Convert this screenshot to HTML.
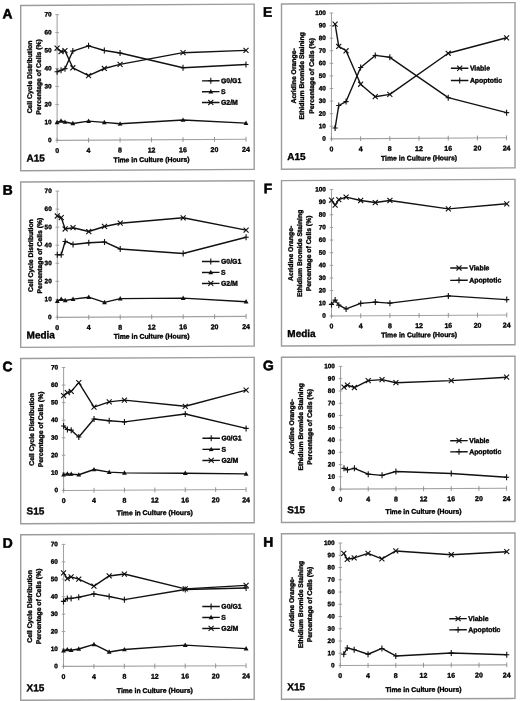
<!DOCTYPE html>
<html><head><meta charset="utf-8"><title>Figure</title>
<style>
html,body{margin:0;padding:0;background:#fff;width:520px;height:701px;overflow:hidden}
svg{display:block;will-change:transform}
text{font-family:"Liberation Sans",sans-serif;font-weight:bold;fill:#000;stroke:#000;stroke-width:0.35px}
.bd{fill:none;stroke:#9c9c9c;stroke-width:1.4}
.ax{fill:none;stroke:#a2a2a2;stroke-width:1.05}
.tk{fill:none;stroke:#8a8a8a;stroke-width:0.9}
.tky{fill:none;stroke:#999;stroke-width:0.9}
.ln{fill:none;stroke:#111;stroke-width:1.4;stroke-linejoin:round}
.m{fill:none;stroke:#111;stroke-width:1.1}
.t{fill:#111}
.pl{font-size:13.8px;stroke-width:0.55px}
.yl{font-size:6.4px;text-anchor:end}
.xl{font-size:7px;text-anchor:middle}
.xt{font-size:6.85px;text-anchor:middle}
.sl{font-size:10px;stroke-width:0.35px}
.yt{font-size:6.82px;text-anchor:middle}
.lg{font-size:6.9px}
</style></head><body>
<svg width="520" height="701" viewBox="0 0 520 701">
<rect width="520" height="701" fill="#fff"/>
<g transform="matrix(1 -0.0059 0 1 0 0)"><rect x="20.7" y="5.62" width="233.5" height="165.3" class="bd"/><text x="2.6" y="18.47" class="pl">A</text><path d="M57.1 14.94V140.69H246" class="ax"/><path d="M55.3 140.69H58.9M55.3 122.72H58.9M55.3 104.76H58.9M55.3 86.79H58.9M55.3 68.83H58.9M55.3 50.87H58.9M55.3 32.9H58.9M55.3 14.94H58.9" class="tky"/><path d="M57.1 138.29V143.09M88.58 138.29V143.09M120.07 138.29V143.09M151.55 138.29V143.09M183.03 138.29V143.09M214.52 138.29V143.09M246 138.29V143.09" class="tk"/><text x="51.5" y="142.59" class="yl">0</text><text x="51.5" y="124.62" class="yl">10</text><text x="51.5" y="106.66" class="yl">20</text><text x="51.5" y="88.69" class="yl">30</text><text x="51.5" y="70.73" class="yl">40</text><text x="51.5" y="52.77" class="yl">50</text><text x="51.5" y="34.8" class="yl">60</text><text x="51.5" y="16.84" class="yl">70</text><text x="57.1" y="153.29" class="xl">0</text><text x="88.58" y="153.29" class="xl">4</text><text x="120.07" y="153.29" class="xl">8</text><text x="151.55" y="153.29" class="xl">12</text><text x="183.03" y="153.29" class="xl">16</text><text x="214.52" y="153.29" class="xl">20</text><text x="246" y="153.29" class="xl">24</text><text x="151.55" y="162.92" class="xt">Time in Culture (Hours)</text><text x="26.55" y="161.72" class="sl">A15</text><text transform="translate(32 77.18) rotate(-90)" class="yt">Cell Cycle Distribution</text><text transform="translate(41.1 77.23) rotate(-90)" class="yt">Percentage of Cells (%)</text><path d="M57.1 72.06L61.04 70.65L64.97 69.06L72.84 51.5L88.58 46.38L104.33 51.14L120.07 53.75L183.03 68.85L246 65.99" class="ln"/><path d="M54.5 72.06H59.7M57.1 69.06V75.06" class="m"/><path d="M58.44 70.65H63.64M61.04 67.65V73.65" class="m"/><path d="M62.37 69.06H67.57M64.97 66.06V72.06" class="m"/><path d="M70.24 51.5H75.44M72.84 48.5V54.5" class="m"/><path d="M85.98 46.38H91.18M88.58 43.38V49.38" class="m"/><path d="M101.73 51.14H106.92M104.33 48.14V54.14" class="m"/><path d="M117.47 53.75H122.67M120.07 50.75V56.75" class="m"/><path d="M180.43 68.85H185.63M183.03 65.85V71.85" class="m"/><path d="M243.4 65.99H248.6M246 62.99V68.99" class="m"/><path d="M57.1 122.72L61.04 121.31L64.97 122.41L72.84 123.89L88.58 121.65L104.33 123L120.07 124.53L183.03 121.13L246 124.56" class="ln"/><path d="M57.1 120.12L59.5 124.52L54.7 124.52Z" class="t"/><path d="M61.04 118.71L63.44 123.11L58.64 123.11Z" class="t"/><path d="M64.97 119.81L67.37 124.21L62.57 124.21Z" class="t"/><path d="M72.84 121.29L75.24 125.69L70.44 125.69Z" class="t"/><path d="M88.58 119.05L90.98 123.45L86.18 123.45Z" class="t"/><path d="M104.33 120.4L106.73 124.8L101.92 124.8Z" class="t"/><path d="M120.07 121.93L122.47 126.33L117.67 126.33Z" class="t"/><path d="M183.03 118.53L185.43 122.93L180.63 122.93Z" class="t"/><path d="M246 121.96L248.4 126.36L243.6 126.36Z" class="t"/><path d="M57.1 48.53L61.04 51.97L64.97 51.09L72.84 68.2L88.58 76.2L104.33 69.11L120.07 65.07L183.03 53.76L246 51.8" class="ln"/><path d="M54.6 46.03L59.6 51.03M54.6 51.03L59.6 46.03" class="m"/><path d="M58.54 49.47L63.54 54.47M58.54 54.47L63.54 49.47" class="m"/><path d="M62.47 48.59L67.47 53.59M62.47 53.59L67.47 48.59" class="m"/><path d="M70.34 65.7L75.34 70.7M70.34 70.7L75.34 65.7" class="m"/><path d="M86.08 73.7L91.08 78.7M86.08 78.7L91.08 73.7" class="m"/><path d="M101.83 66.61L106.83 71.61M101.83 71.61L106.83 66.61" class="m"/><path d="M117.57 62.57L122.57 67.57M117.57 67.57L122.57 62.57" class="m"/><path d="M180.53 51.26L185.53 56.26M180.53 56.26L185.53 51.26" class="m"/><path d="M243.5 49.3L248.5 54.3M243.5 54.3L248.5 49.3" class="m"/><path d="M202 82.04H219.5" class="ln"/><path d="M208.2 82.04H213.4M210.8 79.04V85.04" class="m"/><text x="221" y="84.44" class="lg">G0/G1</text><path d="M202 92.89H219.5" class="ln"/><path d="M210.8 90.29L213.2 94.69L208.4 94.69Z" class="t"/><text x="221" y="95.29" class="lg">S</text><path d="M202 103.74H219.5" class="ln"/><path d="M208.3 101.24L213.3 106.24M208.3 106.24L213.3 101.24" class="m"/><text x="221" y="106.14" class="lg">G2/M</text></g>
<g transform="matrix(1 -0.0053 0 1 0 0)"><rect x="20.7" y="182.11" width="233.5" height="165.4" class="bd"/><text x="2.75" y="194.66" class="pl">B</text><path d="M57.3 191.4V317.7H246.1" class="ax"/><path d="M55.5 317.7H59.1M55.5 299.66H59.1M55.5 281.62H59.1M55.5 263.58H59.1M55.5 245.53H59.1M55.5 227.49H59.1M55.5 209.45H59.1M55.5 191.4H59.1" class="tky"/><path d="M57.3 315.3V320.1M88.77 315.3V320.1M120.23 315.3V320.1M151.7 315.3V320.1M183.17 315.3V320.1M214.63 315.3V320.1M246.1 315.3V320.1" class="tk"/><text x="51.7" y="319.6" class="yl">0</text><text x="51.7" y="301.56" class="yl">10</text><text x="51.7" y="283.52" class="yl">20</text><text x="51.7" y="265.48" class="yl">30</text><text x="51.7" y="247.43" class="yl">40</text><text x="51.7" y="229.39" class="yl">50</text><text x="51.7" y="211.35" class="yl">60</text><text x="51.7" y="193.3" class="yl">70</text><text x="57.3" y="330.3" class="xl">0</text><text x="88.77" y="330.3" class="xl">4</text><text x="120.23" y="330.3" class="xl">8</text><text x="151.7" y="330.3" class="xl">12</text><text x="183.17" y="330.3" class="xl">16</text><text x="214.63" y="330.3" class="xl">20</text><text x="246.1" y="330.3" class="xl">24</text><text x="151.7" y="339.41" class="xt">Time in Culture (Hours)</text><text x="26.55" y="338.61" class="sl">Media</text><text transform="translate(33 255.76) rotate(-90)" class="yt">Cell Cycle Distribution</text><text transform="translate(42.2 255.81) rotate(-90)" class="yt">Percentage of Cells (%)</text><path d="M57.3 255.09L61.23 255.12L65.17 241.78L73.03 244.89L88.77 243.17L104.5 242.53L120.23 249.65L183.17 254.5L246.1 238.59" class="ln"/><path d="M54.7 255.09H59.9M57.3 252.09V258.09" class="m"/><path d="M58.63 255.12H63.83M61.23 252.12V258.12" class="m"/><path d="M62.57 241.78H67.77M65.17 238.78V244.78" class="m"/><path d="M70.43 244.89H75.63M73.03 241.89V247.89" class="m"/><path d="M86.17 243.17H91.37M88.77 240.17V246.17" class="m"/><path d="M101.9 242.53H107.1M104.5 239.53V245.53" class="m"/><path d="M117.63 249.65H122.83M120.23 246.65V252.65" class="m"/><path d="M180.57 254.5H185.77M183.17 251.5V257.5" class="m"/><path d="M243.5 238.59H248.7M246.1 235.59V241.59" class="m"/><path d="M57.3 301.47L61.23 299.5L65.17 300.79L73.03 299.56L88.77 297.66L104.5 302.98L120.23 299.27L183.17 299.06L246.1 303.01" class="ln"/><path d="M57.3 298.87L59.7 303.27L54.9 303.27Z" class="t"/><path d="M61.23 296.9L63.63 301.3L58.83 301.3Z" class="t"/><path d="M65.17 298.19L67.57 302.59L62.77 302.59Z" class="t"/><path d="M73.03 296.96L75.43 301.36L70.63 301.36Z" class="t"/><path d="M88.77 295.06L91.17 299.46L86.37 299.46Z" class="t"/><path d="M104.5 300.38L106.9 304.78L102.1 304.78Z" class="t"/><path d="M120.23 296.67L122.63 301.07L117.83 301.07Z" class="t"/><path d="M183.17 296.46L185.57 300.86L180.77 300.86Z" class="t"/><path d="M246.1 300.41L248.5 304.81L243.7 304.81Z" class="t"/><path d="M57.3 216.3L61.23 217.95L65.17 229.34L73.03 228.11L88.77 231.99L104.5 227.02L120.23 223.85L183.17 218.77L246.1 231.38" class="ln"/><path d="M54.8 213.8L59.8 218.8M54.8 218.8L59.8 213.8" class="m"/><path d="M58.73 215.45L63.73 220.45M58.73 220.45L63.73 215.45" class="m"/><path d="M62.67 226.84L67.67 231.84M62.67 231.84L67.67 226.84" class="m"/><path d="M70.53 225.61L75.53 230.61M70.53 230.61L75.53 225.61" class="m"/><path d="M86.27 229.49L91.27 234.49M86.27 234.49L91.27 229.49" class="m"/><path d="M102 224.52L107 229.52M102 229.52L107 224.52" class="m"/><path d="M117.73 221.35L122.73 226.35M117.73 226.35L122.73 221.35" class="m"/><path d="M180.67 216.27L185.67 221.27M180.67 221.27L185.67 216.27" class="m"/><path d="M243.6 228.88L248.6 233.88M243.6 233.88L248.6 228.88" class="m"/><path d="M202 262.62H219.5" class="ln"/><path d="M208.2 262.62H213.4M210.8 259.62V265.62" class="m"/><text x="221" y="265.02" class="lg">G0/G1</text><path d="M202 273.57H219.5" class="ln"/><path d="M210.8 270.97L213.2 275.37L208.4 275.37Z" class="t"/><text x="221" y="275.97" class="lg">S</text><path d="M202 284.52H219.5" class="ln"/><path d="M208.3 282.02L213.3 287.02M208.3 287.02L213.3 282.02" class="m"/><text x="221" y="286.92" class="lg">G2/M</text></g>
<g transform="matrix(1 -0.0047 0 1 0 0)"><rect x="20.7" y="358.6" width="233.5" height="165.3" class="bd"/><text x="2.5" y="371.16" class="pl">C</text><path d="M63.6 367.8V490.7H246.1" class="ax"/><path d="M61.8 490.7H65.4M61.8 473.14H65.4M61.8 455.58H65.4M61.8 438.03H65.4M61.8 420.47H65.4M61.8 402.91H65.4M61.8 385.36H65.4M61.8 367.8H65.4" class="tky"/><path d="M63.6 488.3V493.1M94.02 488.3V493.1M124.43 488.3V493.1M154.85 488.3V493.1M185.27 488.3V493.1M215.68 488.3V493.1M246.1 488.3V493.1" class="tk"/><text x="58" y="492.6" class="yl">0</text><text x="58" y="475.04" class="yl">10</text><text x="58" y="457.48" class="yl">20</text><text x="58" y="439.93" class="yl">30</text><text x="58" y="422.37" class="yl">40</text><text x="58" y="404.81" class="yl">50</text><text x="58" y="387.26" class="yl">60</text><text x="58" y="369.7" class="yl">70</text><text x="63.6" y="503.3" class="xl">0</text><text x="94.02" y="503.3" class="xl">4</text><text x="124.43" y="503.3" class="xl">8</text><text x="154.85" y="503.3" class="xl">12</text><text x="185.27" y="503.3" class="xl">16</text><text x="215.68" y="503.3" class="xl">20</text><text x="246.1" y="503.3" class="xl">24</text><text x="154.85" y="515.8" class="xt">Time in Culture (Hours)</text><text x="26.55" y="514.6" class="sl">S15</text><text transform="translate(33.9 429.55) rotate(-90)" class="yt">Cell Cycle Distribution</text><text transform="translate(43.2 429.59) rotate(-90)" class="yt">Percentage of Cells (%)</text><path d="M63.6 426.26L67.4 429.79L71.2 430.51L78.81 437.4L94.02 419.38L109.22 421.21L124.43 422.51L185.27 414.9L246.1 429.58" class="ln"/><path d="M61 426.26H66.2M63.6 423.26V429.26" class="m"/><path d="M64.8 429.79H70M67.4 426.79V432.79" class="m"/><path d="M68.6 430.51H73.8M71.2 427.51V433.51" class="m"/><path d="M76.21 437.4H81.41M78.81 434.4V440.4" class="m"/><path d="M91.42 419.38H96.62M94.02 416.38V422.38" class="m"/><path d="M106.62 421.21H111.82M109.22 418.21V424.21" class="m"/><path d="M121.83 422.51H127.03M124.43 419.51V425.51" class="m"/><path d="M182.67 414.9H187.87M185.27 411.9V417.9" class="m"/><path d="M243.5 429.58H248.7M246.1 426.58V432.58" class="m"/><path d="M63.6 474.9L67.4 474.21L71.2 474.41L78.81 475.14L94.02 469.95L109.22 472.65L124.43 473.43L185.27 474.06L246.1 475.05" class="ln"/><path d="M63.6 472.3L66 476.7L61.2 476.7Z" class="t"/><path d="M67.4 471.61L69.8 476.01L65 476.01Z" class="t"/><path d="M71.2 471.81L73.6 476.21L68.8 476.21Z" class="t"/><path d="M78.81 472.54L81.21 476.94L76.41 476.94Z" class="t"/><path d="M94.02 467.35L96.42 471.75L91.62 471.75Z" class="t"/><path d="M109.22 470.05L111.62 474.45L106.82 474.45Z" class="t"/><path d="M124.43 470.83L126.83 475.23L122.03 475.23Z" class="t"/><path d="M185.27 471.46L187.67 475.86L182.87 475.86Z" class="t"/><path d="M246.1 472.45L248.5 476.85L243.7 476.85Z" class="t"/><path d="M63.6 395.89L67.4 392.92L71.2 391.71L78.81 382.97L94.02 407.62L109.22 402.43L124.43 400.74L185.27 407.17L246.1 391.31" class="ln"/><path d="M61.1 393.39L66.1 398.39M61.1 398.39L66.1 393.39" class="m"/><path d="M64.9 390.42L69.9 395.42M64.9 395.42L69.9 390.42" class="m"/><path d="M68.7 389.21L73.7 394.21M68.7 394.21L73.7 389.21" class="m"/><path d="M76.31 380.47L81.31 385.47M76.31 385.47L81.31 380.47" class="m"/><path d="M91.52 405.12L96.52 410.12M91.52 410.12L96.52 405.12" class="m"/><path d="M106.72 399.93L111.72 404.93M106.72 404.93L111.72 399.93" class="m"/><path d="M121.93 398.24L126.93 403.24M121.93 403.24L126.93 398.24" class="m"/><path d="M182.77 404.67L187.77 409.67M182.77 409.67L187.77 404.67" class="m"/><path d="M243.6 388.81L248.6 393.81M243.6 393.81L248.6 388.81" class="m"/><path d="M202.4 439.24H219.9" class="ln"/><path d="M208.6 439.24H213.8M211.2 436.24V442.24" class="m"/><text x="221.4" y="441.64" class="lg">G0/G1</text><path d="M202.4 450.31H219.9" class="ln"/><path d="M211.2 447.71L213.6 452.11L208.8 452.11Z" class="t"/><text x="221.4" y="452.71" class="lg">S</text><path d="M202.4 461.38H219.9" class="ln"/><path d="M208.7 458.88L213.7 463.88M208.7 463.88L213.7 458.88" class="m"/><text x="221.4" y="463.78" class="lg">G2/M</text></g>
<g transform="matrix(1 -0.0038 0 1 0 0)"><rect x="20.7" y="534.88" width="233.5" height="165.5" class="bd"/><text x="2.75" y="547.86" class="pl">D</text><path d="M63.5 544.64V666.64H246.1" class="ax"/><path d="M61.7 666.64H65.3M61.7 649.21H65.3M61.7 631.78H65.3M61.7 614.36H65.3M61.7 596.93H65.3M61.7 579.5H65.3M61.7 562.07H65.3M61.7 544.64H65.3" class="tky"/><path d="M63.5 664.24V669.04M93.93 664.24V669.04M124.37 664.24V669.04M154.8 664.24V669.04M185.23 664.24V669.04M215.67 664.24V669.04M246.1 664.24V669.04" class="tk"/><text x="57.9" y="668.54" class="yl">0</text><text x="57.9" y="651.11" class="yl">10</text><text x="57.9" y="633.68" class="yl">20</text><text x="57.9" y="616.26" class="yl">30</text><text x="57.9" y="598.83" class="yl">40</text><text x="57.9" y="581.4" class="yl">50</text><text x="57.9" y="563.97" class="yl">60</text><text x="57.9" y="546.54" class="yl">70</text><text x="63.5" y="679.24" class="xl">0</text><text x="93.93" y="679.24" class="xl">4</text><text x="124.37" y="679.24" class="xl">8</text><text x="154.8" y="679.24" class="xl">12</text><text x="185.23" y="679.24" class="xl">16</text><text x="215.67" y="679.24" class="xl">20</text><text x="246.1" y="679.24" class="xl">24</text><text x="154.8" y="693.48" class="xt">Time in Culture (Hours)</text><text x="26.55" y="691.38" class="sl">X15</text><text transform="translate(31.6 606.51) rotate(-90)" class="yt">Cell Cycle Distribution</text><text transform="translate(41.1 606.55) rotate(-90)" class="yt">Percentage of Cells (%)</text><path d="M63.5 601.63L67.3 598.68L71.11 598.7L78.72 597.51L93.93 594.25L109.15 596.93L124.37 600.12L185.23 590.24L246.1 588.91" class="ln"/><path d="M60.9 601.63H66.1M63.5 598.63V604.63" class="m"/><path d="M64.7 598.68H69.9M67.3 595.68V601.68" class="m"/><path d="M68.51 598.7H73.71M71.11 595.7V601.7" class="m"/><path d="M76.12 597.51H81.32M78.72 594.51V600.51" class="m"/><path d="M91.33 594.25H96.53M93.93 591.25V597.25" class="m"/><path d="M106.55 596.93H111.75M109.15 593.93V599.93" class="m"/><path d="M121.77 600.12H126.97M124.37 597.12V603.12" class="m"/><path d="M182.63 590.24H187.83M185.23 587.24V593.24" class="m"/><path d="M243.5 588.91H248.7M246.1 585.91V591.91" class="m"/><path d="M63.5 650.96L67.3 649.75L71.11 650.46L78.72 649.27L93.93 644.8L109.15 652.35L124.37 649.97L185.23 645.84L246.1 649.56" class="ln"/><path d="M63.5 648.36L65.9 652.76L61.1 652.76Z" class="t"/><path d="M67.3 647.15L69.7 651.55L64.9 651.55Z" class="t"/><path d="M71.11 647.86L73.51 652.26L68.71 652.26Z" class="t"/><path d="M78.72 646.67L81.12 651.07L76.32 651.07Z" class="t"/><path d="M93.93 642.2L96.33 646.6L91.53 646.6Z" class="t"/><path d="M109.15 649.75L111.55 654.15L106.75 654.15Z" class="t"/><path d="M124.37 647.37L126.77 651.77L121.97 651.77Z" class="t"/><path d="M185.23 643.24L187.63 647.64L182.83 647.64Z" class="t"/><path d="M246.1 646.96L248.5 651.36L243.7 651.36Z" class="t"/><path d="M63.5 573.05L67.3 578.82L71.11 577.09L78.72 579.38L93.93 586.41L109.15 576.36L124.37 574.5L185.23 589.55L246.1 586.29" class="ln"/><path d="M61 570.55L66 575.55M61 575.55L66 570.55" class="m"/><path d="M64.8 576.32L69.8 581.32M64.8 581.32L69.8 576.32" class="m"/><path d="M68.61 574.59L73.61 579.59M68.61 579.59L73.61 574.59" class="m"/><path d="M76.22 576.88L81.22 581.88M76.22 581.88L81.22 576.88" class="m"/><path d="M91.43 583.91L96.43 588.91M91.43 588.91L96.43 583.91" class="m"/><path d="M106.65 573.86L111.65 578.86M106.65 578.86L111.65 573.86" class="m"/><path d="M121.87 572L126.87 577M121.87 577L126.87 572" class="m"/><path d="M182.73 587.05L187.73 592.05M182.73 592.05L187.73 587.05" class="m"/><path d="M243.6 583.79L248.6 588.79M243.6 588.79L248.6 583.79" class="m"/><path d="M202.3 607.3H219.8" class="ln"/><path d="M208.5 607.3H213.7M211.1 604.3V610.3" class="m"/><text x="221.3" y="609.7" class="lg">G0/G1</text><path d="M202.3 618.25H219.8" class="ln"/><path d="M211.1 615.65L213.5 620.05L208.7 620.05Z" class="t"/><text x="221.3" y="620.65" class="lg">S</text><path d="M202.3 629.2H219.8" class="ln"/><path d="M208.6 626.7L213.6 631.7M208.6 631.7L213.6 626.7" class="m"/><text x="221.3" y="631.6" class="lg">G2/M</text></g>
<g transform="matrix(1 -0.0059 0 1 0 0)"><rect x="281.5" y="5.62" width="233.5" height="165.3" class="bd"/><text x="263" y="18.2" class="pl">E</text><path d="M331.45 14.96V140.81H506.6" class="ax"/><path d="M329.65 140.81H333.25M329.65 128.22H333.25M329.65 115.64H333.25M329.65 103.05H333.25M329.65 90.47H333.25M329.65 77.88H333.25M329.65 65.3H333.25M329.65 52.71H333.25M329.65 40.13H333.25M329.65 27.54H333.25M329.65 14.96H333.25" class="tky"/><path d="M331.45 138.41V143.21M360.64 138.41V143.21M389.83 138.41V143.21M419.02 138.41V143.21M448.22 138.41V143.21M477.41 138.41V143.21M506.6 138.41V143.21" class="tk"/><text x="325.85" y="142.71" class="yl">0</text><text x="325.85" y="130.12" class="yl">10</text><text x="325.85" y="117.54" class="yl">20</text><text x="325.85" y="104.95" class="yl">30</text><text x="325.85" y="92.37" class="yl">40</text><text x="325.85" y="79.78" class="yl">50</text><text x="325.85" y="67.2" class="yl">60</text><text x="325.85" y="54.61" class="yl">70</text><text x="325.85" y="42.03" class="yl">80</text><text x="325.85" y="29.44" class="yl">90</text><text x="325.85" y="16.86" class="yl">100</text><text x="331.45" y="153.41" class="xl">0</text><text x="360.64" y="153.41" class="xl">4</text><text x="389.83" y="153.41" class="xl">8</text><text x="419.02" y="153.41" class="xl">12</text><text x="448.22" y="153.41" class="xl">16</text><text x="477.41" y="153.41" class="xl">20</text><text x="506.6" y="153.41" class="xl">24</text><text x="419.02" y="162.92" class="xt">Time in Culture (Hours)</text><text x="287.35" y="161.72" class="sl">A15</text><text transform="translate(295.8 77.63) rotate(-90)" class="yt">Acridine Orange-</text><text transform="translate(304.4 77.68) rotate(-90)" class="yt">Ethidium Bromide Staining</text><text transform="translate(313.5 77.74) rotate(-90)" class="yt">Percentage of Cells (%)</text><path d="M335.1 26.05L338.75 48.47L346.05 52.8L360.64 86.36L375.24 98.9L389.83 96.72L448.22 55.92L506.6 40.78" class="ln"/><path d="M332.6 23.55L337.6 28.55M332.6 28.55L337.6 23.55" class="m"/><path d="M336.25 45.97L341.25 50.97M336.25 50.97L341.25 45.97" class="m"/><path d="M343.55 50.3L348.55 55.3M343.55 55.3L348.55 50.3" class="m"/><path d="M358.14 83.86L363.14 88.86M358.14 88.86L363.14 83.86" class="m"/><path d="M372.74 96.4L377.74 101.4M372.74 101.4L377.74 96.4" class="m"/><path d="M387.33 94.22L392.33 99.22M387.33 99.22L392.33 94.22" class="m"/><path d="M445.72 53.42L450.72 58.42M445.72 58.42L450.72 53.42" class="m"/><path d="M504.1 38.28L509.1 43.28M504.1 43.28L509.1 38.28" class="m"/><path d="M335.1 130L338.75 107.5L346.05 103.64L360.64 69.62L375.24 57.63L389.83 59.6L448.22 100.34L506.6 115.66" class="ln"/><path d="M332.5 130H337.7M335.1 127V133" class="m"/><path d="M336.15 107.5H341.35M338.75 104.5V110.5" class="m"/><path d="M343.45 103.64H348.65M346.05 100.64V106.64" class="m"/><path d="M358.04 69.62H363.24M360.64 66.62V72.62" class="m"/><path d="M372.64 57.63H377.84M375.24 54.63V60.63" class="m"/><path d="M387.23 59.6H392.43M389.83 56.6V62.6" class="m"/><path d="M445.62 100.34H450.82M448.22 97.34V103.34" class="m"/><path d="M504 115.66H509.2M506.6 112.66V118.66" class="m"/><path d="M450.9 70.96H468.4" class="ln"/><path d="M457.2 68.46L462.2 73.46M457.2 73.46L462.2 68.46" class="m"/><text x="469.9" y="73.36" class="lg">Viable</text><path d="M450.9 83.21H468.4" class="ln"/><path d="M457.1 83.21H462.3M459.7 80.21V86.21" class="m"/><text x="469.9" y="85.61" class="lg">Apoptotic</text></g>
<g transform="matrix(1 -0.0053 0 1 0 0)"><rect x="281.5" y="182.11" width="233.5" height="165.4" class="bd"/><text x="263.8" y="194.55" class="pl">F</text><path d="M331.5 191.26V317.66H506.75" class="ax"/><path d="M329.7 317.66H333.3M329.7 305.02H333.3M329.7 292.38H333.3M329.7 279.74H333.3M329.7 267.1H333.3M329.7 254.46H333.3M329.7 241.82H333.3M329.7 229.18H333.3M329.7 216.54H333.3M329.7 203.9H333.3M329.7 191.26H333.3" class="tky"/><path d="M331.5 315.26V320.06M360.71 315.26V320.06M389.92 315.26V320.06M419.12 315.26V320.06M448.33 315.26V320.06M477.54 315.26V320.06M506.75 315.26V320.06" class="tk"/><text x="325.9" y="319.56" class="yl">0</text><text x="325.9" y="306.92" class="yl">10</text><text x="325.9" y="294.28" class="yl">20</text><text x="325.9" y="281.64" class="yl">30</text><text x="325.9" y="269" class="yl">40</text><text x="325.9" y="256.36" class="yl">50</text><text x="325.9" y="243.72" class="yl">60</text><text x="325.9" y="231.08" class="yl">70</text><text x="325.9" y="218.44" class="yl">80</text><text x="325.9" y="205.8" class="yl">90</text><text x="325.9" y="193.16" class="yl">100</text><text x="331.5" y="330.26" class="xl">0</text><text x="360.71" y="330.26" class="xl">4</text><text x="389.92" y="330.26" class="xl">8</text><text x="419.12" y="330.26" class="xl">12</text><text x="448.33" y="330.26" class="xl">16</text><text x="477.54" y="330.26" class="xl">20</text><text x="506.75" y="330.26" class="xl">24</text><text x="419.12" y="339.41" class="xt">Time in Culture (Hours)</text><text x="287.35" y="338.61" class="sl">Media</text><text transform="translate(292.9 254.94) rotate(-90)" class="yt">Acridine Orange-</text><text transform="translate(302.1 254.99) rotate(-90)" class="yt">Ethidium Bromide Staining</text><text transform="translate(311.2 255.04) rotate(-90)" class="yt">Percentage of Cells (%)</text><path d="M331.5 201.87L335.15 206.82L338.8 201.41L346.1 198.92L360.71 202.41L375.31 204.51L389.92 202.56L448.33 211.22L506.75 206.47" class="ln"/><path d="M329 199.37L334 204.37M329 204.37L334 199.37" class="m"/><path d="M332.65 204.32L337.65 209.32M332.65 209.32L337.65 204.32" class="m"/><path d="M336.3 198.91L341.3 203.91M336.3 203.91L341.3 198.91" class="m"/><path d="M343.6 196.42L348.6 201.42M343.6 201.42L348.6 196.42" class="m"/><path d="M358.21 199.91L363.21 204.91M358.21 204.91L363.21 199.91" class="m"/><path d="M372.81 202.01L377.81 207.01M372.81 207.01L377.81 202.01" class="m"/><path d="M387.42 200.06L392.42 205.06M387.42 205.06L392.42 200.06" class="m"/><path d="M445.83 208.72L450.83 213.72M445.83 213.72L450.83 208.72" class="m"/><path d="M504.25 203.97L509.25 208.97M504.25 208.97L509.25 203.97" class="m"/><path d="M331.5 306.15L335.15 301.88L338.8 306.95L346.1 310.78L360.71 305.3L375.31 304.11L389.92 305.2L448.33 298.3L506.75 302.28" class="ln"/><path d="M328.9 306.15H334.1M331.5 303.15V309.15" class="m"/><path d="M332.55 301.88H337.75M335.15 298.88V304.88" class="m"/><path d="M336.2 306.95H341.4M338.8 303.95V309.95" class="m"/><path d="M343.5 310.78H348.7M346.1 307.78V313.78" class="m"/><path d="M358.11 305.3H363.31M360.71 302.3V308.3" class="m"/><path d="M372.71 304.11H377.91M375.31 301.11V307.11" class="m"/><path d="M387.32 305.2H392.52M389.92 302.2V308.2" class="m"/><path d="M445.73 298.3H450.93M448.33 295.3V301.3" class="m"/><path d="M504.15 302.28H509.35M506.75 299.28V305.28" class="m"/><path d="M450.2 270.43H467.7" class="ln"/><path d="M456.5 267.93L461.5 272.93M456.5 272.93L461.5 267.93" class="m"/><text x="469.2" y="272.83" class="lg">Viable</text><path d="M450.2 282.73H467.7" class="ln"/><path d="M456.4 282.73H461.6M459 279.73V285.73" class="m"/><text x="469.2" y="285.13" class="lg">Apoptotic</text></g>
<g transform="matrix(1 -0.0047 0 1 0 0)"><rect x="281.5" y="358.6" width="233.5" height="165.3" class="bd"/><text x="263" y="371.39" class="pl">G</text><path d="M340.55 368V490.7H506.6" class="ax"/><path d="M338.75 490.7H342.35M338.75 478.43H342.35M338.75 466.16H342.35M338.75 453.89H342.35M338.75 441.62H342.35M338.75 429.35H342.35M338.75 417.08H342.35M338.75 404.81H342.35M338.75 392.54H342.35M338.75 380.27H342.35M338.75 368H342.35" class="tky"/><path d="M340.55 488.3V493.1M368.23 488.3V493.1M395.9 488.3V493.1M423.58 488.3V493.1M451.25 488.3V493.1M478.93 488.3V493.1M506.6 488.3V493.1" class="tk"/><text x="334.95" y="492.6" class="yl">0</text><text x="334.95" y="480.33" class="yl">10</text><text x="334.95" y="468.06" class="yl">20</text><text x="334.95" y="455.79" class="yl">30</text><text x="334.95" y="443.52" class="yl">40</text><text x="334.95" y="431.25" class="yl">50</text><text x="334.95" y="418.98" class="yl">60</text><text x="334.95" y="406.71" class="yl">70</text><text x="334.95" y="394.44" class="yl">80</text><text x="334.95" y="382.17" class="yl">90</text><text x="334.95" y="369.9" class="yl">100</text><text x="340.55" y="503.3" class="xl">0</text><text x="368.23" y="503.3" class="xl">4</text><text x="395.9" y="503.3" class="xl">8</text><text x="423.58" y="503.3" class="xl">12</text><text x="451.25" y="503.3" class="xl">16</text><text x="478.93" y="503.3" class="xl">20</text><text x="506.6" y="503.3" class="xl">24</text><text x="423.58" y="515.8" class="xt">Time in Culture (Hours)</text><text x="287.35" y="514.6" class="sl">S15</text><text transform="translate(294.3 428.27) rotate(-90)" class="yt">Acridine Orange-</text><text transform="translate(303.3 428.31) rotate(-90)" class="yt">Ethidium Bromide Staining</text><text transform="translate(312.1 428.36) rotate(-90)" class="yt">Percentage of Cells (%)</text><path d="M344.01 388.75L347.47 386.81L354.39 389.17L368.23 382.36L382.06 381.45L395.9 384.58L451.25 382.75L506.6 379.58" class="ln"/><path d="M341.51 386.25L346.51 391.25M341.51 391.25L346.51 386.25" class="m"/><path d="M344.97 384.31L349.97 389.31M344.97 389.31L349.97 384.31" class="m"/><path d="M351.89 386.67L356.89 391.67M351.89 391.67L356.89 386.67" class="m"/><path d="M365.73 379.86L370.73 384.86M365.73 384.86L370.73 379.86" class="m"/><path d="M379.56 378.95L384.56 383.95M379.56 383.95L384.56 378.95" class="m"/><path d="M393.4 382.08L398.4 387.08M393.4 387.08L398.4 382.08" class="m"/><path d="M448.75 380.25L453.75 385.25M448.75 385.25L453.75 380.25" class="m"/><path d="M504.1 377.08L509.1 382.08M504.1 382.08L509.1 377.08" class="m"/><path d="M344.01 469.98L347.47 471.47L354.39 470.03L368.23 475.86L382.06 477.15L395.9 473.41L451.25 475.64L506.6 479.7" class="ln"/><path d="M341.41 469.98H346.61M344.01 466.98V472.98" class="m"/><path d="M344.87 471.47H350.07M347.47 468.47V474.47" class="m"/><path d="M351.79 470.03H356.99M354.39 467.03V473.03" class="m"/><path d="M365.62 475.86H370.83M368.23 472.86V478.86" class="m"/><path d="M379.46 477.15H384.66M382.06 474.15V480.15" class="m"/><path d="M393.3 473.41H398.5M395.9 470.41V476.41" class="m"/><path d="M448.65 475.64H453.85M451.25 472.64V478.64" class="m"/><path d="M504 479.7H509.2M506.6 476.7V482.7" class="m"/><path d="M450.2 442.86H467.7" class="ln"/><path d="M456.5 440.36L461.5 445.36M456.5 445.36L461.5 440.36" class="m"/><text x="469.2" y="445.26" class="lg">Viable</text><path d="M450.2 453.96H467.7" class="ln"/><path d="M456.4 453.96H461.6M459 450.96V456.96" class="m"/><text x="469.2" y="456.36" class="lg">Apoptotic</text></g>
<g transform="matrix(1 -0.0038 0 1 0 0)"><rect x="281.5" y="534.88" width="233.5" height="165.5" class="bd"/><text x="263.2" y="547.85" class="pl">H</text><path d="M340.3 544.29V666.79H506.75" class="ax"/><path d="M338.5 666.79H342.1M338.5 654.54H342.1M338.5 642.29H342.1M338.5 630.04H342.1M338.5 617.79H342.1M338.5 605.54H342.1M338.5 593.29H342.1M338.5 581.04H342.1M338.5 568.79H342.1M338.5 556.54H342.1M338.5 544.29H342.1" class="tky"/><path d="M340.3 664.39V669.19M368.04 664.39V669.19M395.78 664.39V669.19M423.52 664.39V669.19M451.27 664.39V669.19M479.01 664.39V669.19M506.75 664.39V669.19" class="tk"/><text x="334.7" y="668.69" class="yl">0</text><text x="334.7" y="656.44" class="yl">10</text><text x="334.7" y="644.19" class="yl">20</text><text x="334.7" y="631.94" class="yl">30</text><text x="334.7" y="619.69" class="yl">40</text><text x="334.7" y="607.44" class="yl">50</text><text x="334.7" y="595.19" class="yl">60</text><text x="334.7" y="582.94" class="yl">70</text><text x="334.7" y="570.69" class="yl">80</text><text x="334.7" y="558.44" class="yl">90</text><text x="334.7" y="546.19" class="yl">100</text><text x="340.3" y="679.39" class="xl">0</text><text x="368.04" y="679.39" class="xl">4</text><text x="395.78" y="679.39" class="xl">8</text><text x="423.52" y="679.39" class="xl">12</text><text x="451.27" y="679.39" class="xl">16</text><text x="479.01" y="679.39" class="xl">20</text><text x="506.75" y="679.39" class="xl">24</text><text x="423.52" y="693.48" class="xt">Time in Culture (Hours)</text><text x="287.35" y="691.38" class="sl">X15</text><text transform="translate(294.3 605.61) rotate(-90)" class="yt">Acridine Orange-</text><text transform="translate(302.9 605.64) rotate(-90)" class="yt">Ethidium Bromide Staining</text><text transform="translate(312 605.68) rotate(-90)" class="yt">Percentage of Cells (%)</text><path d="M343.77 554.6L347.24 560.61L354.17 559.29L368.04 554.69L381.91 560.25L395.78 552.47L451.27 556.47L506.75 553.62" class="ln"/><path d="M341.27 552.1L346.27 557.1M341.27 557.1L346.27 552.1" class="m"/><path d="M344.74 558.11L349.74 563.11M344.74 563.11L349.74 558.11" class="m"/><path d="M351.67 556.79L356.67 561.79M351.67 561.79L356.67 556.79" class="m"/><path d="M365.54 552.19L370.54 557.19M365.54 557.19L370.54 552.19" class="m"/><path d="M379.41 557.75L384.41 562.75M379.41 562.75L384.41 557.75" class="m"/><path d="M393.28 549.97L398.28 554.97M393.28 554.97L398.28 549.97" class="m"/><path d="M448.77 553.97L453.77 558.97M448.77 558.97L453.77 553.97" class="m"/><path d="M504.25 551.12L509.25 556.12M504.25 556.12L509.25 551.12" class="m"/><path d="M343.77 655.54L347.24 649.3L354.17 651.04L368.04 655.63L381.91 649.92L395.78 657.45L451.27 654.72L506.75 656.65" class="ln"/><path d="M341.17 655.54H346.37M343.77 652.54V658.54" class="m"/><path d="M344.64 649.3H349.84M347.24 646.3V652.3" class="m"/><path d="M351.57 651.04H356.77M354.17 648.04V654.04" class="m"/><path d="M365.44 655.63H370.64M368.04 652.63V658.63" class="m"/><path d="M379.31 649.92H384.51M381.91 646.92V652.92" class="m"/><path d="M393.18 657.45H398.38M395.78 654.45V660.45" class="m"/><path d="M448.67 654.72H453.87M451.27 651.72V657.72" class="m"/><path d="M504.15 656.65H509.35M506.75 653.65V659.65" class="m"/><path d="M449.3 620.44H466.8" class="ln"/><path d="M455.6 617.94L460.6 622.94M455.6 622.94L460.6 617.94" class="m"/><text x="468.3" y="622.84" class="lg">Viable</text><path d="M449.3 631.54H466.8" class="ln"/><path d="M455.5 631.54H460.7M458.1 628.54V634.54" class="m"/><text x="468.3" y="633.94" class="lg">Apoptotic</text></g>
</svg>
</body></html>
